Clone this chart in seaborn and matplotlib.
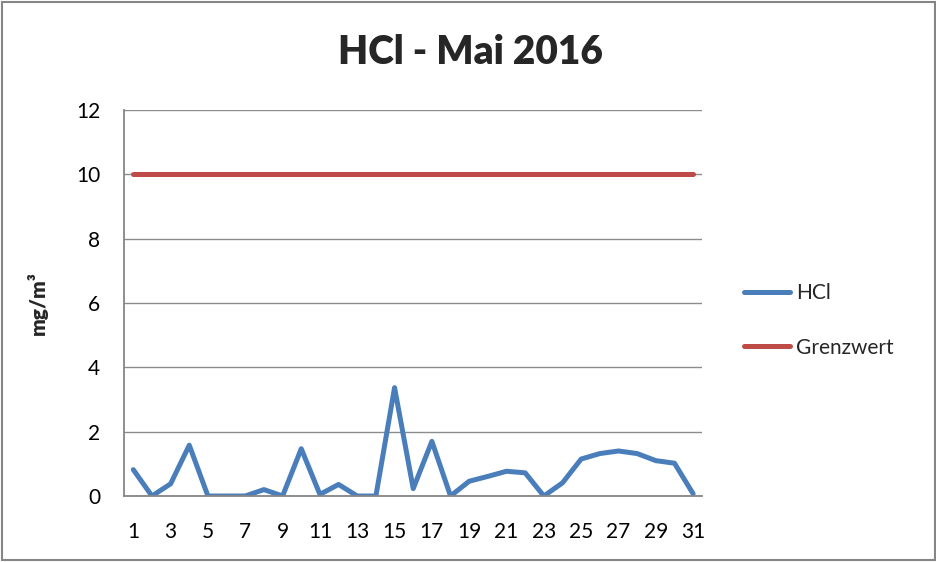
import pandas as pd
import seaborn as sns
import matplotlib.pyplot as plt
from matplotlib.patches import Rectangle

days = list(range(1, 32))
hcl = [0.82, 0.0, 0.38, 1.58, 0.0, 0.0, 0.0, 0.2, 0.0, 1.47, 0.05, 0.36, 0.0, 0.0, 3.37,
       0.23, 1.70, 0.0, 0.46, 0.61, 0.77, 0.72, 0.0, 0.41, 1.15, 1.32, 1.40, 1.32, 1.10, 1.02, 0.07]
grenzwert = [10] * 31
tick_labels = [str(d) for d in range(1, 32, 2)]

df = pd.DataFrame({'Tag': days, 'HCl': hcl, 'Grenzwert': grenzwert})
df = df.melt(id_vars='Tag', var_name='Serie', value_name='Wert')

sns.set_style('white')
plt.rcParams['font.family'] = ['Lato', 'DejaVu Sans']

fig = plt.figure(figsize=(9.37, 5.62), dpi=100)
ax = fig.add_axes([0.1323, 0.1174, 0.6174, 0.6868])

sns.lineplot(data=df, x='Tag', y='Wert', hue='Serie', palette=['#4A7EBB', '#BE4B48'],
             linewidth=3.6, ax=ax)

ax.set_xlim(0.5, 31.5)
ax.set_ylim(0, 12)
ax.set_yticks(range(0, 13, 2))
ax.set_xticks(range(1, 32, 2))
ax.set_xticklabels(tick_labels)
ax.tick_params(axis='both', labelsize=15, length=0, colors='black')
ax.tick_params(axis='x', pad=19)
ax.tick_params(axis='y', pad=17)
ax.grid(axis='y', color='#8c8c8c', linewidth=1)
ax.set_axisbelow(True)
for s in ['top', 'right']:
    ax.spines[s].set_visible(False)
for s in ['left', 'bottom']:
    ax.spines[s].set_color('#868686')
    ax.spines[s].set_linewidth(1.3)

ax.set_xlabel('')
ax.set_ylabel('mg/m³', fontsize=15, fontweight='heavy', labelpad=20)
fig.text(0.502, 0.907, 'HCl - Mai 2016', ha='center', va='center', fontsize=28, fontweight='heavy')

leg = ax.legend(loc='center left', bbox_to_anchor=(1.04, 0.455), frameon=False, fontsize=15,
                handlelength=2.2, handletextpad=0.3, labelspacing=1.65)
for line in leg.get_lines():
    line.set_linewidth(3.6)

fig.patches.append(Rectangle((0.002, 0.003), 0.996, 0.994, transform=fig.transFigure,
                             fill=False, edgecolor='#868686', linewidth=1.5))

fig.savefig('out.png', dpi=100)
